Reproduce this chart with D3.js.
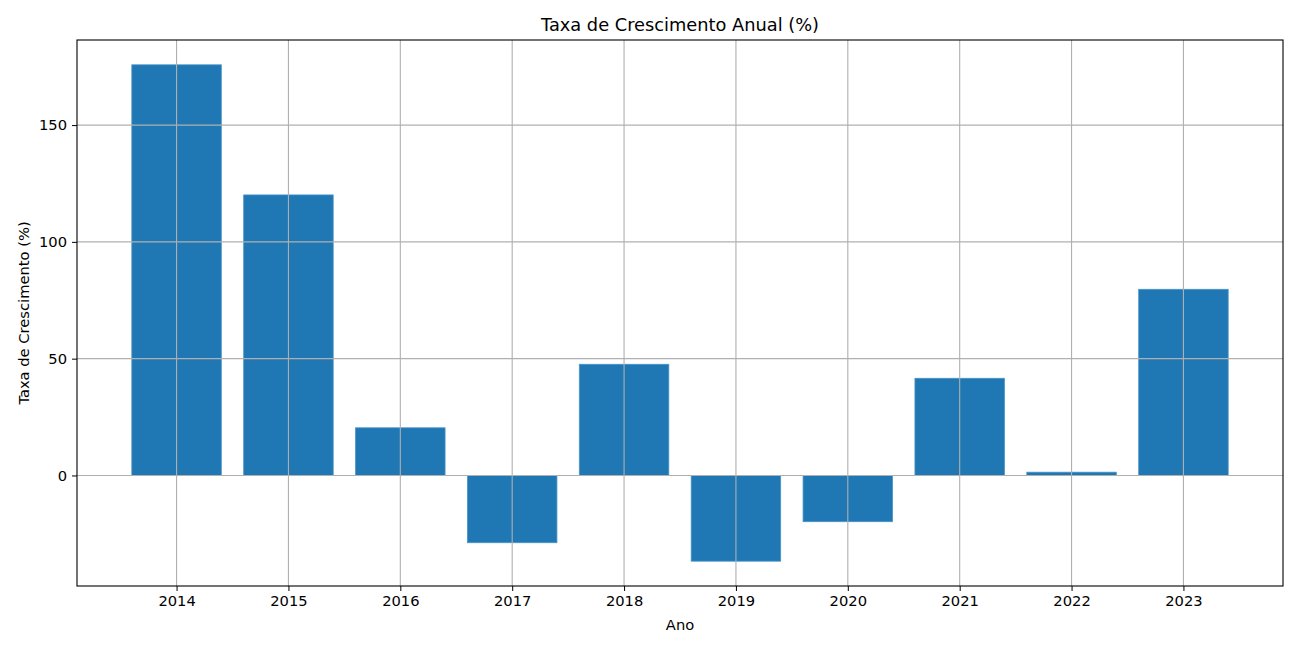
<!DOCTYPE html>
<html><head><meta charset="utf-8">
<script src="https://cdn.jsdelivr.net/npm/d3@7"></script>
<style>body{margin:0;background:#fff;} text{font-family:"DejaVu Sans",sans-serif;fill:#000;}</style>
</head><body>
<svg id="c" width="1300" height="650"></svg>
<script>
const years = ["2014","2015","2016","2017","2018","2019","2020","2021","2022","2023"];
const growth = [175.8, 120.1, 20.4, -28.8, 47.6, -36.7, -19.8, 41.6, 1.4, 79.7];
const yTicks = [0, 50, 100, 150];
const title = "Taxa de Crescimento Anual (%)";
const xLabel = "Ano";
const yLabel = "Taxa de Crescimento (%)";

const L = 77, R = 1283, T = 40, B = 586;
const FS = "14.7px";
const svg = d3.select("#c");
const n = years.length;
const dLo = -0.4, dHi = n - 1 + 0.4, xm = (dHi - dLo) * 0.05;
const x = d3.scaleLinear().domain([dLo - xm, dHi + xm]).range([L, R]);
const lo = Math.min(0, d3.min(growth)), hi = Math.max(0, d3.max(growth));
const m = (hi - lo) * 0.05;
const y = d3.scaleLinear().domain([lo - m, hi + m]).range([B, T]);

const g = svg.append("g");
g.selectAll("rect.bar").data(growth).enter().append("rect")
  .attr("x", (d,i) => x(i - 0.4))
  .attr("width", (d,i) => x(i + 0.4) - x(i - 0.4))
  .attr("y", d => y(Math.max(0, d)))
  .attr("height", d => Math.abs(y(d) - y(0)))
  .attr("fill", "#1f77b4")
  .attr("stroke", "#4a93c8").attr("stroke-width", 0.8);

const grid = svg.append("g").attr("stroke", "#b0b0b0").attr("stroke-width", 1.1);
years.forEach((yr, i) => grid.append("line").attr("x1", x(i)).attr("x2", x(i)).attr("y1", T).attr("y2", B));
yTicks.forEach(t => grid.append("line").attr("x1", L).attr("x2", R).attr("y1", y(t)).attr("y2", y(t)));

const xAxis = d3.axisBottom(x).tickValues(d3.range(n)).tickFormat(i => years[i]).tickSizeOuter(0).tickSize(5).tickPadding(5);
const yAxis = d3.axisLeft(y).tickValues(yTicks).tickSizeOuter(0).tickSize(5).tickPadding(5);
const gx = svg.append("g").attr("transform", `translate(0,${B})`).call(xAxis);
const gy = svg.append("g").attr("transform", `translate(${L},0)`).call(yAxis);
[gx, gy].forEach(a => {
  a.attr("font-size", null).attr("font-family", null);
  a.select(".domain").remove();
  a.selectAll("line").attr("stroke", "#000").attr("stroke-width", 1);
  a.selectAll("text").style("font-family", "DejaVu Sans").style("font-size", FS).attr("fill", "#000");
});
svg.append("rect").attr("x", L).attr("y", T).attr("width", R - L).attr("height", B - T)
  .attr("fill", "none").attr("stroke", "#000").attr("stroke-width", 1.1);

svg.append("text").attr("x", (L+R)/2).attr("y", 31).attr("text-anchor", "middle")
  .style("font-size", "17.8px").text(title);
svg.append("text").attr("x", (L+R)/2).attr("y", 630).attr("text-anchor", "middle")
  .style("font-size", FS).text(xLabel);
svg.append("text").attr("transform", `translate(29,${(T+B)/2}) rotate(-90)`).attr("text-anchor", "middle")
  .style("font-size", FS).text(yLabel);
</script>
</body></html>
